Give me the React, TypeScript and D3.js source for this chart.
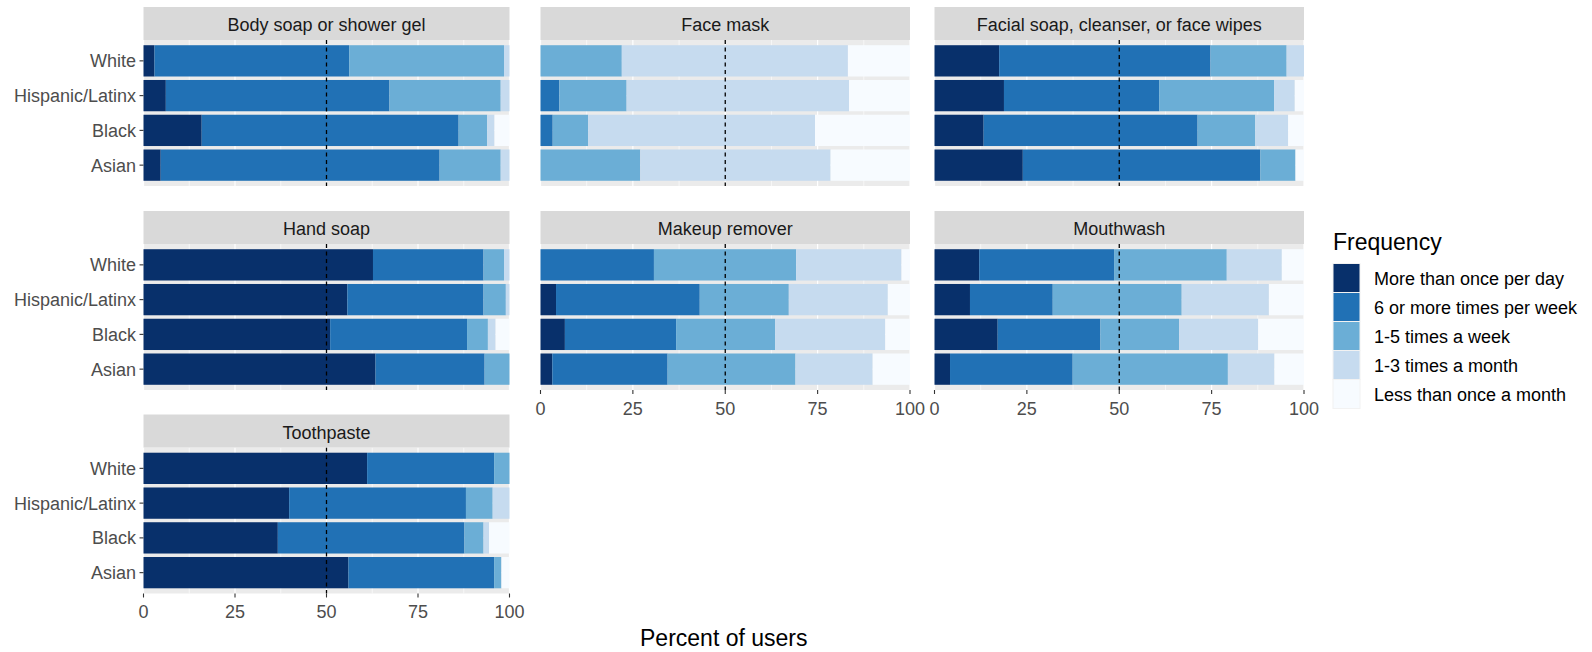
import React, { useEffect, useRef } from "react";
import * as d3 from "d3";

const frequencies = [
  "More than once per day",
  "6 or more times per week",
  "1-5 times a week",
  "1-3 times a month",
  "Less than once a month",
];
const groups = ["White", "Hispanic/Latinx", "Black", "Asian"];
const products = [
  "Body soap or shower gel",
  "Face mask",
  "Facial soap, cleanser, or face wipes",
  "Hand soap",
  "Makeup remover",
  "Mouthwash",
  "Toothpaste",
];
const xTicks = [0, 25, 50, 75, 100];
const minorTicks = [12.5, 37.5, 62.5, 87.5];

// percent of users, rows follow `groups`, columns follow `frequencies`
const bodySoap = [
  [3.0, 53.2, 42.3, 1.5, 0],
  [6.1, 61.1, 30.4, 2.4, 0],
  [15.9, 70.2, 7.8, 2.0, 4.1],
  [4.7, 76.2, 16.7, 2.4, 0],
];
const faceMask = [
  [0, 0, 22.0, 61.2, 16.8],
  [0, 5.1, 18.2, 60.2, 16.5],
  [0, 3.3, 9.6, 61.4, 25.7],
  [0, 0, 27.0, 51.5, 21.5],
];
const facialSoap = [
  [17.5, 57.2, 20.6, 4.7, 0],
  [18.8, 42.0, 31.1, 5.6, 2.5],
  [13.3, 57.9, 15.6, 8.9, 4.3],
  [23.9, 64.3, 9.5, 0, 2.3],
];
const handSoap = [
  [62.7, 30.2, 5.6, 1.5, 0],
  [55.7, 37.2, 6.1, 1.0, 0],
  [51.0, 37.4, 5.7, 2.1, 3.8],
  [63.4, 29.8, 6.8, 0, 0],
];
const makeupRemover = [
  [0, 30.7, 38.5, 28.5, 2.3],
  [4.2, 38.9, 24.1, 26.8, 6.0],
  [6.6, 30.1, 26.8, 29.8, 6.7],
  [3.2, 31.2, 34.6, 20.9, 10.1],
];
const mouthwash = [
  [12.1, 36.5, 30.5, 14.9, 6.0],
  [9.6, 22.4, 34.9, 23.6, 9.5],
  [17.1, 27.8, 21.3, 21.4, 12.4],
  [4.2, 33.2, 42.0, 12.6, 8.0],
];
const toothpaste = [
  [61.1, 34.7, 4.2, 0, 0],
  [39.8, 48.3, 7.3, 4.6, 0],
  [36.7, 51.0, 5.2, 1.5, 5.6],
  [56.0, 39.8, 2.0, 0, 2.2],
];
const productValues = [bodySoap, faceMask, facialSoap, handSoap, makeupRemover, mouthwash, toothpaste];

const colors = ["#08306B", "#2171B5", "#6BAED6", "#C6DBEF", "#F7FBFF"];

const WIDTH = 1592;
const HEIGHT = 652;
const FONT = "'Liberation Sans', Arial, sans-serif";

export default function App() {
  const svgRef = useRef<SVGSVGElement>(null);

  useEffect(() => {
    const svg = d3.select(svgRef.current);
    svg.selectAll("*").remove();

    svg.append("rect").attr("width", WIDTH).attr("height", HEIGHT).attr("fill", "#fff");

    // facet grid (3 columns)
    const colX = [
      [143.5, 509.5],
      [540.5, 910],
      [934.5, 1304],
    ];
    const stripTop = [7, 211, 414.5];
    const stripH = 33;
    const panelH = 146;

    const stack = d3
      .stack<any>()
      .keys(frequencies)
      .order(d3.stackOrderNone)
      .offset(d3.stackOffsetNone);

    products.forEach((product, i) => {
      const col = i % 3;
      const row = Math.floor(i / 3);
      const [x0, x1] = colX[col];
      const sTop = stripTop[row];
      const pTop = sTop + stripH;
      const pBot = pTop + panelH;

      const x = d3.scaleLinear().domain([0, 100]).range([x0, x1]);
      const y = d3
        .scaleBand<string>()
        .domain(groups)
        .range([pTop, pBot])
        .paddingInner(0.1)
        .paddingOuter(0.15);

      const g = svg.append("g");

      // panel + grid
      g.append("rect")
        .attr("x", x0).attr("y", pTop)
        .attr("width", x1 - x0).attr("height", panelH)
        .attr("fill", "#EBEBEB");
      g.selectAll(".minor")
        .data(minorTicks)
        .enter()
        .append("line")
        .attr("x1", d => x(d)).attr("x2", d => x(d))
        .attr("y1", pTop).attr("y2", pBot)
        .attr("stroke", "#fff").attr("stroke-width", 0.6);
      g.selectAll(".major")
        .data(xTicks)
        .enter()
        .append("line")
        .attr("x1", d => x(d)).attr("x2", d => x(d))
        .attr("y1", pTop).attr("y2", pBot)
        .attr("stroke", "#fff").attr("stroke-width", 1.2);
      g.selectAll(".hgrid")
        .data(groups)
        .enter()
        .append("line")
        .attr("x1", x0).attr("x2", x1)
        .attr("y1", d => y(d)! + y.bandwidth() / 2)
        .attr("y2", d => y(d)! + y.bandwidth() / 2)
        .attr("stroke", "#fff").attr("stroke-width", 1.2);

      // stacked bars
      const rows = groups.map((grp, gi) => {
        const o: any = { group: grp };
        frequencies.forEach((f, fi) => (o[f] = productValues[i][gi][fi]));
        return o;
      });
      const series = stack(rows);
      g.selectAll(".layer")
        .data(series)
        .enter()
        .append("g")
        .attr("fill", (_d, k) => colors[k])
        .selectAll("rect")
        .data(d => d)
        .enter()
        .append("rect")
        .attr("x", d => x(d[0]))
        .attr("width", d => Math.max(0, x(d[1]) - x(d[0])))
        .attr("y", d => y(d.data.group)!)
        .attr("height", y.bandwidth());

      // reference line at 50%
      g.append("line")
        .attr("x1", x(50)).attr("x2", x(50))
        .attr("y1", pTop).attr("y2", pBot)
        .attr("stroke", "#000")
        .attr("stroke-width", 1.3)
        .attr("stroke-dasharray", "4,3.5");

      // strip
      g.append("rect")
        .attr("x", x0).attr("y", sTop)
        .attr("width", x1 - x0).attr("height", stripH)
        .attr("fill", "#D9D9D9");
      g.append("text")
        .attr("x", (x0 + x1) / 2)
        .attr("y", sTop + 24)
        .attr("text-anchor", "middle")
        .style("font-family", FONT)
        .style("font-size", "18px")
        .style("fill", "#1A1A1A")
        .text(product);

      // y axis on first column
      if (col === 0) {
        groups.forEach(grp => {
          const cy = y(grp)! + y.bandwidth() / 2;
          g.append("line")
            .attr("x1", x0 - 4).attr("x2", x0)
            .attr("y1", cy).attr("y2", cy)
            .attr("stroke", "#333").attr("stroke-width", 1.1);
          g.append("text")
            .attr("x", x0 - 7.5)
            .attr("y", cy + 6.5)
            .attr("text-anchor", "end")
            .style("font-family", FONT)
            .style("font-size", "18px")
            .style("fill", "#4D4D4D")
            .text(grp);
        });
      }

      // x axis where nothing sits below
      if (i + 3 >= products.length) {
        xTicks.forEach(t => {
          g.append("line")
            .attr("x1", x(t)).attr("x2", x(t))
            .attr("y1", pBot).attr("y2", pBot + 4)
            .attr("stroke", "#333").attr("stroke-width", 1.1);
          g.append("text")
            .attr("x", x(t))
            .attr("y", pBot + 24.5)
            .attr("text-anchor", "middle")
            .style("font-family", FONT)
            .style("font-size", "18px")
            .style("fill", "#4D4D4D")
            .text(t);
        });
      }
    });

    // x axis title
    svg.append("text")
      .attr("x", (colX[0][0] + colX[2][1]) / 2)
      .attr("y", 645.5)
      .attr("text-anchor", "middle")
      .style("font-family", FONT)
      .style("font-size", "23px")
      .style("fill", "#000")
      .text("Percent of users");

    // legend
    const lx = 1333;
    const ly = 263.5;
    const keyW = 27;
    const keyH = 29;
    const legend = svg.append("g");
    legend.append("text")
      .attr("x", lx)
      .attr("y", 249.5)
      .style("font-family", FONT)
      .style("font-size", "23px")
      .style("fill", "#000")
      .text("Frequency");
    frequencies.forEach((f, k) => {
      legend.append("rect")
        .attr("x", lx).attr("y", ly + k * keyH)
        .attr("width", keyW).attr("height", keyH)
        .attr("fill", colors[k])
        .attr("stroke", "#F2F2F2")
        .attr("stroke-width", 1);
      legend.append("text")
        .attr("x", lx + 41)
        .attr("y", ly + k * keyH + keyH / 2 + 6.5)
        .style("font-family", FONT)
        .style("font-size", "18px")
        .style("fill", "#000")
        .text(f);
    });
  }, []);

  return (
    <svg
      ref={svgRef}
      width={WIDTH}
      height={HEIGHT}
      style={{ position: "absolute", left: 0, top: 0 }}
    />
  );
}
